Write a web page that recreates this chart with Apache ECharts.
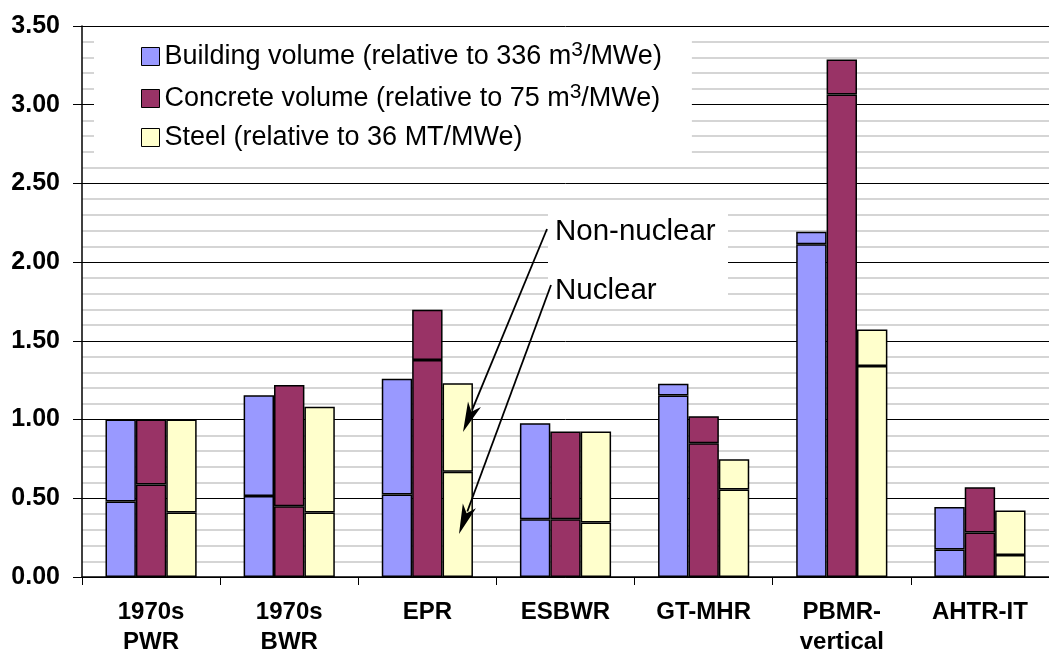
<!DOCTYPE html>
<html><head><meta charset="utf-8">
<script src="https://cdn.jsdelivr.net/npm/echarts@6/dist/echarts.min.js"></script>
<style>html,body{margin:0;padding:0;background:#fff}#c{width:1049px;height:657px}</style>
</head><body><div id="c"></div>
<script>
// ---- data ----
const categories = ['1970s\nPWR', '1970s\nBWR', 'EPR', 'ESBWR', 'GT-MHR', 'PBMR-\nvertical', 'AHTR-IT'];
const seriesNames = [
  'Building volume (relative to 336 m3/MWe)',
  'Concrete volume (relative to 75 m3/MWe)',
  'Steel (relative to 36 MT/MWe)'
];
const legendLabels = [
  'Building volume (relative to 336 m{sup|3}/MWe)',
  'Concrete volume (relative to 75 m{sup|3}/MWe)',
  'Steel (relative to 36 MT/MWe)'
];
// nuclear portion (lower segment) and total bar height
const buildingNuclear = [0.48, 0.514, 0.524, 0.367, 1.153, 2.113, 0.174];
const buildingTotal   = [1.00, 1.155, 1.26, 0.977, 1.228, 2.193, 0.445];
const concreteNuclear = [0.587, 0.45, 1.379, 0.367, 0.849, 3.065, 0.283];
const concreteTotal   = [1.00, 1.22, 1.698, 0.925, 1.021, 3.287, 0.570];
const steelNuclear    = [0.41, 0.41, 0.669, 0.346, 0.556, 1.34, 0.14];
const steelTotal      = [1.00, 1.082, 1.23, 0.925, 0.748, 1.572, 0.423];
const annotationTexts = ['Non-nuclear', 'Nuclear'];

const colors = ['#9999FF', '#993366', '#FFFFCC'];
const FONT = 'Arial, "Liberation Sans", Helvetica, sans-serif';

function diff(t, n) { return t.map((v, i) => +(v - n[i]).toFixed(3)); }
const parts = [
  [buildingNuclear, diff(buildingTotal, buildingNuclear)],
  [concreteNuclear, diff(concreteTotal, concreteNuclear)],
  [steelNuclear, diff(steelTotal, steelNuclear)]
];

const series = [];
parts.forEach((p, k) => {
  p.forEach((d) => {
    series.push({
      type: 'bar', name: seriesNames[k], stack: 's' + k, data: d,
      barCategoryGap: '34%', barGap: '0%',
      itemStyle: { color: colors[k], borderColor: '#000', borderWidth: 1.5 },
      emphasis: { disabled: true }
    });
  });
});

function arrow(x1, y1, x2, y2) {
  const dx = x2 - x1, dy = y2 - y1, L = Math.hypot(dx, dy);
  const ux = dx / L, uy = dy / L, hl = 30, hw = 7;
  const bx = x2 - ux * hl, by = y2 - uy * hl;
  return [
    { type: 'line', z: 100, shape: { x1, y1, x2: bx + ux * 6, y2: by + uy * 6 }, style: { stroke: '#000', lineWidth: 1.8 } },
    { type: 'polygon', z: 100, shape: { points: [[x2, y2], [bx - uy * hw, by + ux * hw], [bx + ux * 8, by + uy * 8], [bx + uy * hw, by - ux * hw]] }, style: { fill: '#000' } }
  ];
}

const chart = echarts.init(document.getElementById('c'), null, { renderer: 'canvas' });
chart.setOption({
  animation: false,
  backgroundColor: '#fff',
  grid: { left: 82, top: 26, width: 981, height: 556, containLabel: false },
  legend: {
    data: seriesNames,
    orient: 'vertical', left: 94, top: 30,
    backgroundColor: '#fff',
    padding: [10, 30, 8, 47],
    itemWidth: 18, itemHeight: 18, itemGap: 12,
    icon: 'rect',
    itemStyle: { borderColor: '#000', borderWidth: 1 },
    formatter: (name) => legendLabels[seriesNames.indexOf(name)],
    textStyle: {
      fontFamily: FONT, fontSize: 27, color: '#000',
      rich: { sup: { fontFamily: FONT, fontSize: 21, color: '#000', verticalAlign: 'bottom', padding: [0, 0, 12, 0] } }
    },
    selectedMode: false
  },
  xAxis: {
    type: 'category', data: categories,
    axisLine: { lineStyle: { color: '#000', width: 1.5 } },
    axisTick: { show: true, length: 8, lineStyle: { color: '#000', width: 1 } },
    axisLabel: { fontFamily: FONT, fontWeight: 'bold', fontSize: 24, color: '#000', lineHeight: 30, margin: 20, interval: 0 }
  },
  yAxis: {
    type: 'value', min: 0, max: 3.5, interval: 0.5,
    axisLine: { show: true, lineStyle: { color: '#000', width: 1.5 } },
    axisTick: { show: true, length: 9, lineStyle: { color: '#000' } },
    axisLabel: { fontFamily: FONT, fontWeight: 'bold', fontSize: 25, color: '#000', margin: 22, formatter: (v) => v.toFixed(2) },
    splitLine: { show: true, lineStyle: { color: '#000', width: 1 } },
    minorTick: { show: false, splitNumber: 5 },
    minorSplitLine: { show: true, lineStyle: { color: '#c8c8c8', width: 1.5 } }
  },
  series: series,
  graphic: [
    { type: 'rect', z: 50, shape: { x: 548, y: 208, width: 180, height: 96 }, style: { fill: '#fff' } },
    { type: 'text', z: 60, x: 555, y: 232, style: { text: annotationTexts[0], fontFamily: FONT, fontSize: 29.5, fill: '#000', verticalAlign: 'middle' } },
    { type: 'text', z: 60, x: 555, y: 291, style: { text: annotationTexts[1], fontFamily: FONT, fontSize: 29.5, fill: '#000', verticalAlign: 'middle' } },
    ...arrow(547, 229, 463, 432),
    ...arrow(551, 285, 459, 534)
  ]
});
</script></body></html>
